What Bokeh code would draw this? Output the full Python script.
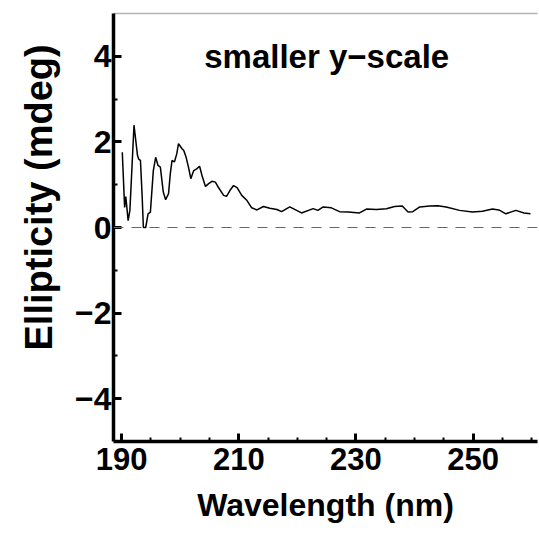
from bokeh.plotting import figure
from bokeh.models import Range1d, FixedTicker, LinearAxis, Span, Label, Title
from bokeh.embed import file_html
from bokeh.resources import INLINE

# ---- data ----
wavelength = [190.1, 190.5, 190.7, 191.1, 191.4, 192.1, 192.7, 192.9, 193.2, 193.5,
              193.7, 194.1, 194.5, 194.9, 195.4, 195.8, 196.2, 196.6, 197.1, 197.5,
              198.0, 198.3, 198.6, 199.0, 199.4, 199.7, 200.3, 200.6, 201.0, 201.4,
              201.8, 202.3, 202.8, 203.3, 203.7, 204.3, 204.8, 205.4, 206.0, 206.5,
              207.4, 207.9, 208.5, 209.1, 209.7, 210.5, 211.4, 212.2, 213.1,
              214.2, 215.3, 216.5, 217.3, 218.7, 220.7, 222.7, 223.5, 224.4, 225.8,
              227.2, 228.7, 230.6, 231.8, 233.5, 235.2, 236.6, 237.9, 238.9, 239.7,
              240.9, 242.6, 244.0, 245.4, 247.7, 249.9, 251.6, 253.3, 254.4, 255.6,
              257.3, 258.7, 259.8]
ellipticity = [1.76, 0.47, 0.72, 0.16, 0.40, 2.39, 1.68, 1.60, 1.57, 0.71,
               0.00, 0.00, 0.32, 0.36, 1.33, 1.64, 1.45, 1.41, 0.83, 0.65,
               0.79, 1.26, 1.57, 1.53, 1.72, 1.96, 1.84, 1.80, 1.64, 1.41,
               1.14, 1.33, 1.37, 1.43, 1.22, 0.96, 1.02, 1.08, 1.06, 0.94,
               0.75, 0.73, 0.87, 0.98, 0.93, 0.75, 0.63, 0.46, 0.41,
               0.49, 0.45, 0.42, 0.37, 0.48, 0.34, 0.44, 0.40, 0.48, 0.46,
               0.37, 0.36, 0.34, 0.43, 0.42, 0.44, 0.49, 0.50, 0.36, 0.37,
               0.48, 0.50, 0.51, 0.48, 0.40, 0.36, 0.38, 0.43, 0.41, 0.32,
               0.40, 0.34, 0.32]

x_ticks = [190, 210, 230, 250]
x_minor = [195, 200, 205, 215, 220, 225, 235, 240, 245, 255, 260]
y_ticks = [-4, -2, 0, 2, 4]
y_minor = [-3, -1, 1, 3]
y_tick_labels = {-4: "\u22124", -2: "\u22122", 0: "0", 2: "2", 4: "4"}
x_title = "Wavelength (nm)"
y_title = "Ellipticity (mdeg)"
annotation = "smaller y\u2212scale"

FONT = "Liberation Sans"

p = figure(width=539, height=534, output_backend="svg", toolbar_location=None,
           x_range=Range1d(188.6, 261), y_range=Range1d(-5, 5),
           min_border_left=113, min_border_right=2, min_border_top=13, min_border_bottom=93,
           x_axis_label=x_title)
p.outline_line_color = None
p.grid.visible = False
p.background_fill_color = "white"
p.border_fill_color = "white"

p.xaxis.ticker = FixedTicker(ticks=x_ticks, minor_ticks=x_minor)
p.yaxis.ticker = FixedTicker(ticks=y_ticks, minor_ticks=y_minor)
p.yaxis.major_label_overrides = y_tick_labels

for ax in (p.xaxis, p.yaxis):
    ax.axis_line_width = 3.5
    ax.axis_line_color = "black"
    ax.major_tick_in = 8
    ax.major_tick_out = 0
    ax.minor_tick_in = 4
    ax.minor_tick_out = 0
    ax.major_tick_line_width = 3
    ax.minor_tick_line_width = 2
    ax.major_label_text_font = FONT
    ax.major_label_text_font_style = "bold"
    ax.major_label_text_color = "black"
    ax.axis_label_text_font = FONT
    ax.axis_label_text_font_style = "bold"
    ax.axis_label_text_color = "black"

p.xaxis.major_label_text_font_size = "31px"
p.yaxis.major_label_text_font_size = "32px"
p.xaxis.axis_label_text_font_size = "32px"
p.xaxis.major_label_standoff = 6
p.yaxis.major_label_standoff = 2
p.xaxis.axis_label_standoff = 14

top = LinearAxis(ticker=FixedTicker(ticks=[]), major_label_text_font_size="0px",
                 axis_line_color="#b4b4b4", axis_line_width=1.5,
                 major_tick_line_color=None, minor_tick_line_color=None)
p.add_layout(top, "above")

# y-axis title as a side title, starting ~91px above the frame bottom
p.add_layout(Title(text=y_title, align="left", offset=91, standoff=21,
                   vertical_align="top",
                   text_font=FONT, text_font_style="bold", text_font_size="38px",
                   text_color="black"), "left")

p.add_layout(Span(location=0, dimension="width", line_color="#666666",
                  line_width=1.2, line_dash="10 8"))

p.line(wavelength, ellipticity, line_color="black", line_width=1.5)

p.add_layout(Label(x=225, y=4, text=annotation, text_align="center",
                   text_baseline="middle", text_font=FONT, text_font_style="bold",
                   text_font_size="33px", text_color="black"))

open("out.html", "w").write(file_html(p, INLINE))
